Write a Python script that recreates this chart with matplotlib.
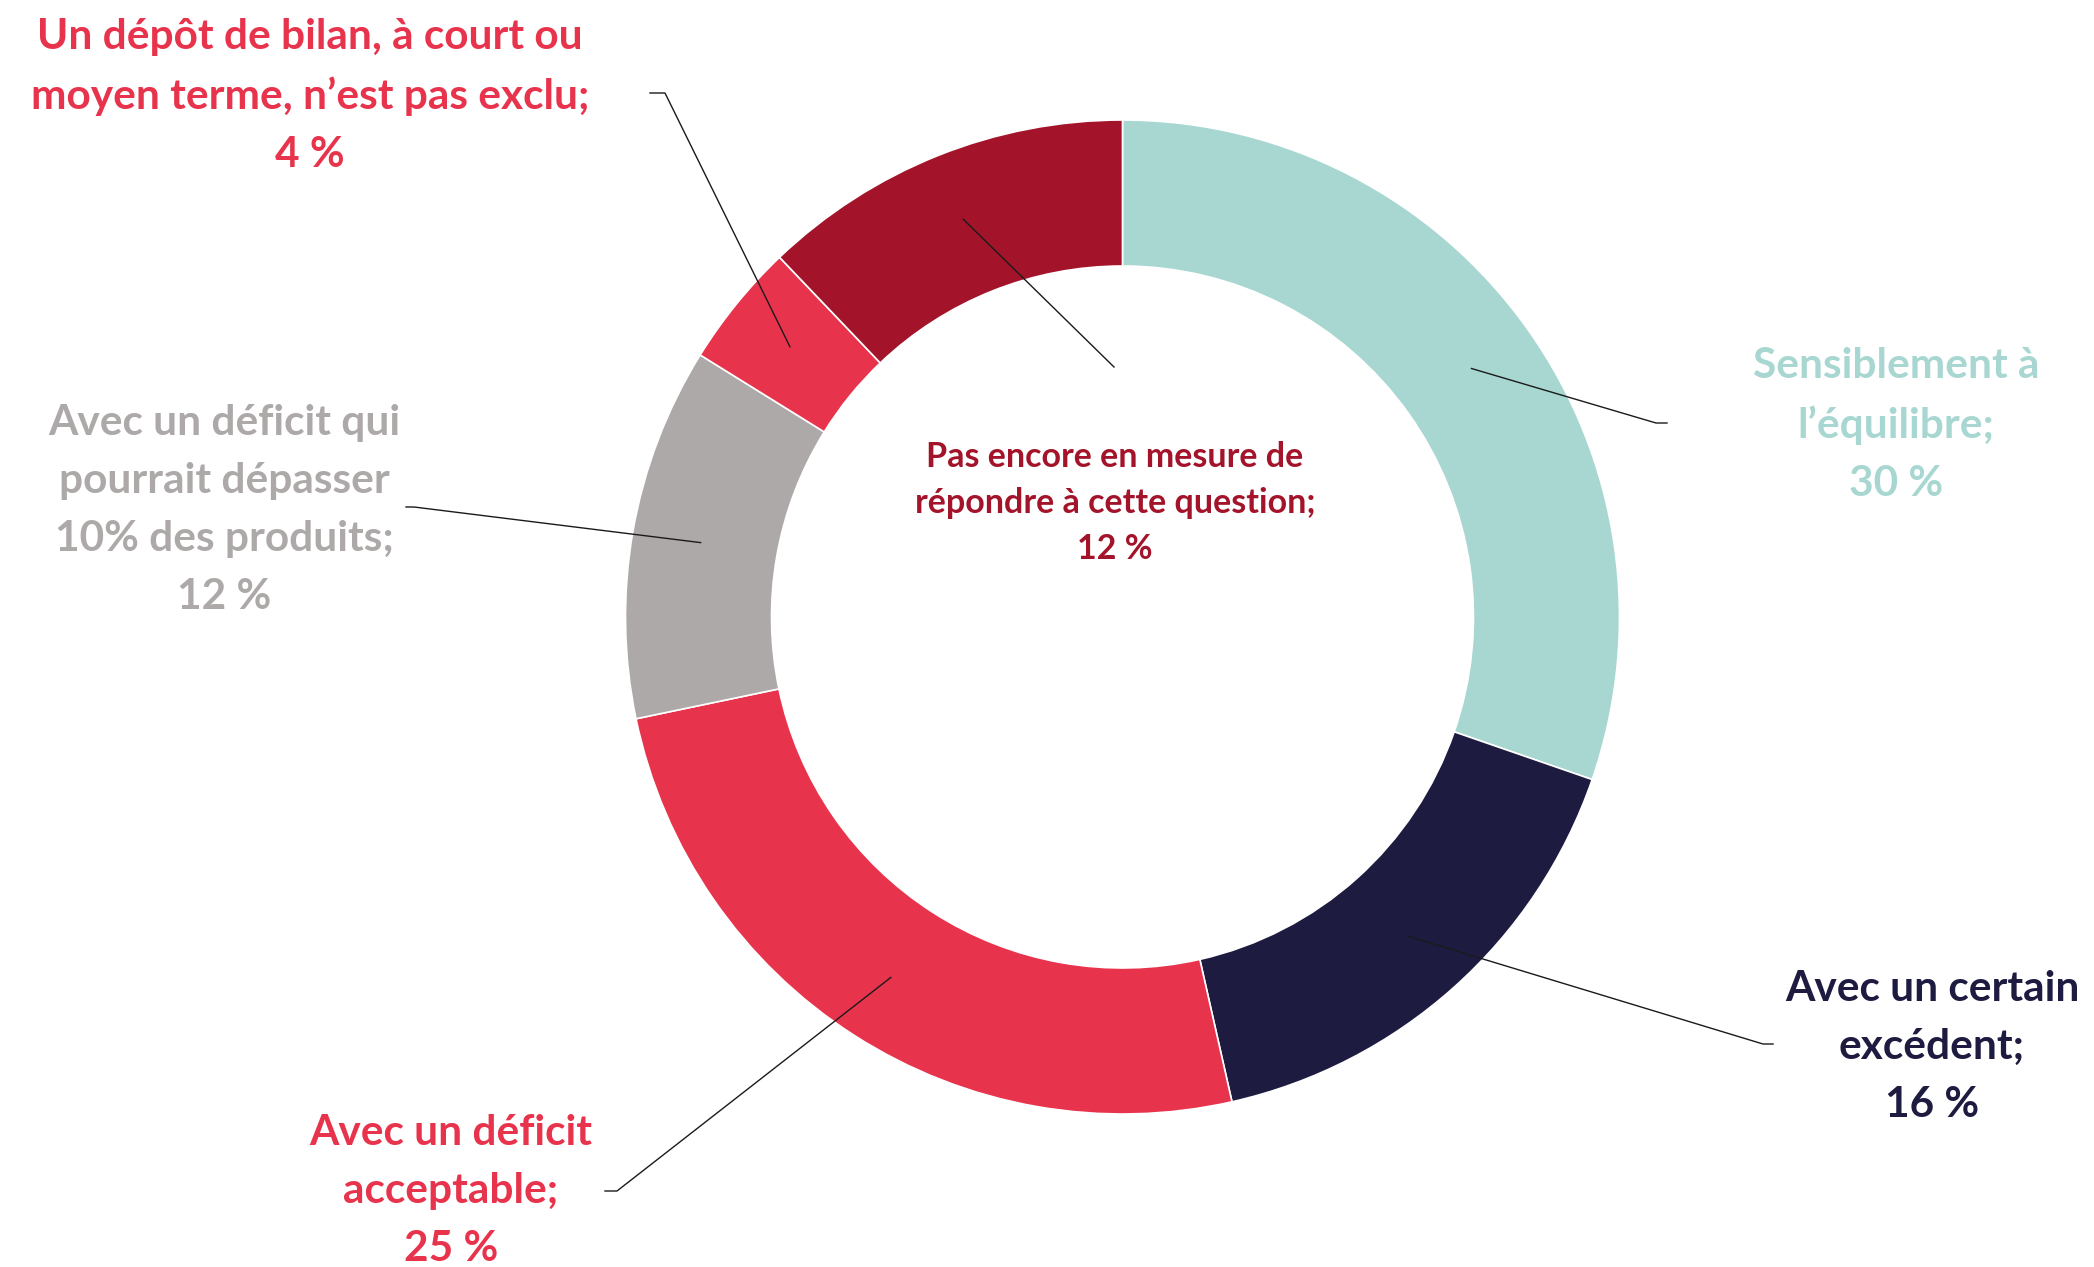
import matplotlib.pyplot as plt
import numpy as np

# data
labels = [
    "Sensiblement à\nl’équilibre;\n30 %",
    "Avec un certain\nexcédent;\n16 %",
    "Avec un déficit\nacceptable;\n25 %",
    "Avec un déficit qui\npourrait dépasser\n10% des produits;\n12 %",
    "Un dépôt de bilan, à court ou\nmoyen terme, n’est pas exclu;\n4 %",
    "Pas encore en mesure de\nrépondre à cette question;\n12 %",
]
values = [30, 16, 25, 12, 4, 12]
colors = ["#A8D7D1", "#1E1B41", "#E8334C", "#ADA9A8", "#E8334C", "#A3142A"]

# layout (figure pixels, origin top-left)
W, H = 2094, 1267
center = (1122.5, 617)
radius = 497
ring = 146
label_pos = [(1896, 425), (1932, 1047), (451, 1191), (224, 510), (310, 96), (1115, 503)]
leader_end = [(1656, 423), (1763, 1044), (617, 1191), (414, 507), (665, 93), (1114, 367)]
tick = [11, 10, -12, -8, -15, 0]

plt.rcParams['font.family'] = ['Lato', 'DejaVu Sans']

fig = plt.figure(figsize=(W / 100, H / 100), dpi=100)
ax = fig.add_axes([0, 0, 1, 1])

wedges, _ = ax.pie(values, colors=colors, startangle=90, counterclock=False,
                   radius=radius, center=(center[0], H - center[1]),
                   wedgeprops=dict(width=ring, edgecolor="white", linewidth=1.2))
ax.set_xlim(0, W)
ax.set_ylim(0, H)
ax.axis("off")

for i, w in enumerate(wedges):
    # leader line starts in the middle of the ring, at the wedge's mid angle
    ang = np.deg2rad((w.theta1 + w.theta2) / 2)
    r = radius * 0.862
    x0 = center[0] + r * np.cos(ang)
    y0 = (H - center[1]) + r * np.sin(ang)
    ex, ey = leader_end[i]
    xs = [x0, ex, ex + tick[i]]
    ys = [y0, H - ey, H - ey]
    ax.plot(xs, ys, color="#1a1a1a", lw=1.0, zorder=5)

    lx, ly = label_pos[i]
    if i == 5:
        size, ls = 24.5, 1.52
    else:
        size, ls = 30.5, 1.65
    ax.text(lx, H - ly, labels[i], ha="center", va="center", multialignment="center",
            color=colors[i], fontsize=size, fontweight="bold", linespacing=ls, zorder=6)

fig.savefig("out.png", dpi=100, facecolor="white")
